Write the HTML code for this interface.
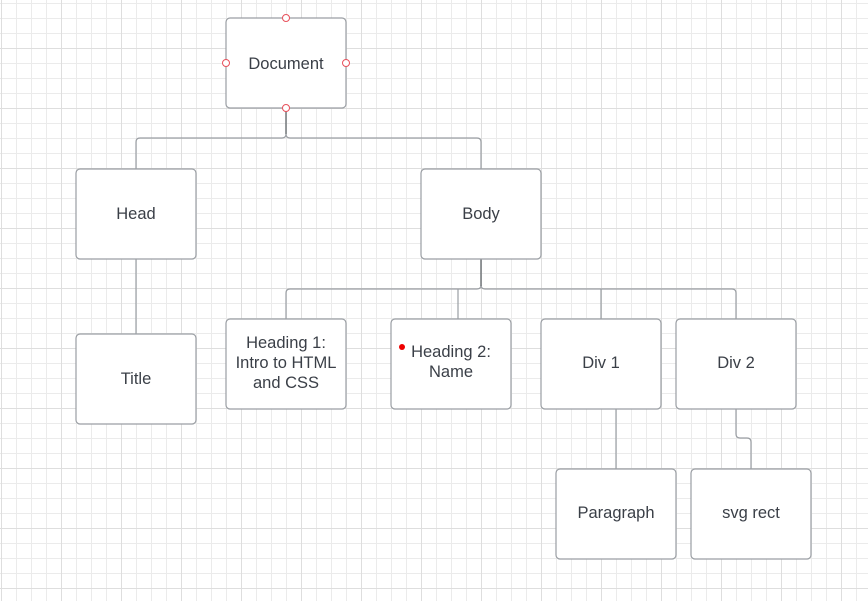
<!DOCTYPE html>
<html><head><style>
html,body{margin:0;padding:0;background:#fff;}
svg{display:block;}
text{font-family:"Liberation Sans",sans-serif;font-size:16.5px;fill:#3a3f47;}
</style></head><body>
<svg width="868" height="601" xmlns="http://www.w3.org/2000/svg">
<defs>
<pattern id="minor" x="1" y="3" width="15" height="15" patternUnits="userSpaceOnUse">
<path d="M0.5 0V15M0 0.5H15" stroke="#ebebeb" stroke-width="1" fill="none"/>
</pattern>
<pattern id="major" x="1" y="48" width="60" height="60" patternUnits="userSpaceOnUse">
<path d="M0.5 0V60M0 0.5H60" stroke="#dedede" stroke-width="1" fill="none"/>
</pattern>
</defs>
<rect width="868" height="601" fill="url(#minor)"/>
<rect width="868" height="601" fill="url(#major)"/>
<g stroke="#9a9ea3" stroke-width="1.2" fill="none">
<path d="M286 108V134q0 4 -4 4H140q-4 0 -4 4V169"/>
<path d="M286 134q0 4 4 4H477q4 0 4 4V169"/>
<path d="M136 259V334"/>
<path d="M481 259V285q0 4 -4 4H290q-4 0 -4 4V319"/>
<path d="M481 285q0 4 4 4H732q4 0 4 4V319"/>
<path d="M458 289V319"/>
<path d="M601 289V319"/>
<path d="M616 409V469"/>
<path d="M736 409V434q0 4 4 4H747q4 0 4 4V469"/>
</g>
<g stroke="#5f6368" stroke-width="1.2" fill="none">
<path d="M286 110V134"/><path d="M481 259V286"/>
</g>
<g fill="#fff" stroke="#9a9ea3" stroke-width="1.2">
<rect x="226" y="18" width="120" height="90" rx="4"/>
<rect x="76" y="169" width="120" height="90" rx="4"/>
<rect x="421" y="169" width="120" height="90" rx="4"/>
<rect x="76" y="334" width="120" height="90" rx="4"/>
<rect x="226" y="319" width="120" height="90" rx="4"/>
<rect x="391" y="319" width="120" height="90" rx="4"/>
<rect x="541" y="319" width="120" height="90" rx="4"/>
<rect x="676" y="319" width="120" height="90" rx="4"/>
<rect x="556" y="469" width="120" height="90" rx="4"/>
<rect x="691" y="469" width="120" height="90" rx="4"/>
</g>
<g fill="#fff" stroke="#e8505b" stroke-width="1">
<circle cx="286" cy="18" r="3.5"/><circle cx="226" cy="63" r="3.5"/>
<circle cx="346" cy="63" r="3.5"/><circle cx="286" cy="108" r="3.5"/>
</g>
<circle cx="402" cy="347" r="3" fill="#e00"/>
<g text-anchor="middle">
<text x="286" y="69">Document</text>
<text x="136" y="219">Head</text>
<text x="481" y="219">Body</text>
<text x="136" y="384">Title</text>
<text x="286" y="348">Heading 1:</text>
<text x="286" y="368">Intro to HTML</text>
<text x="286" y="388">and CSS</text>
<text x="451" y="357">Heading 2:</text>
<text x="451" y="377">Name</text>
<text x="601" y="368">Div 1</text>
<text x="736" y="368">Div 2</text>
<text x="616" y="518">Paragraph</text>
<text x="751" y="518">svg rect</text>
</g>
</svg>
</body></html>
